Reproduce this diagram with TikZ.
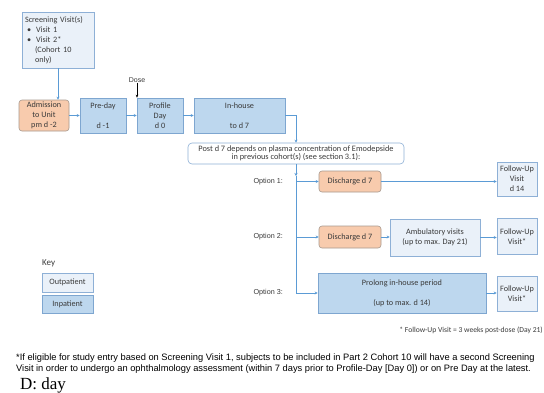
\documentclass[tikz,border=0pt]{standalone}
\usepackage{fontspec}
\setmainfont{Carlito}
\newfontfamily\arialf{Liberation Sans}
\newfontfamily\timesf{Liberation Serif}
\usetikzlibrary{arrows.meta,positioning}
\definecolor{infill}{HTML}{BDD7EE}
\definecolor{inbd}{HTML}{7EA6D0}
\definecolor{outfill}{HTML}{EAF1F9}
\definecolor{outbd}{HTML}{8EB0D6}
\definecolor{orfill}{HTML}{F8CBAD}
\definecolor{orbd}{HTML}{A8998E}
\definecolor{conn}{HTML}{5B9BD5}
\definecolor{txt}{HTML}{3A3A3A}
\tikzset{
  base/.style={line width=0.6pt, inner sep=0pt, align=center, text=txt,
    font=\fontsize{8.2}{10}\selectfont},
  inbox/.style={base, draw=inbd, fill=infill},
  outbox/.style={base, draw=outbd, fill=outfill},
  orbox/.style={base, draw=orbd, fill=orfill, rounded corners=3pt},
  sz/.style 2 args={minimum width=#1pt, minimum height=#2pt},
  link/.style={draw=conn, line width=0.6pt},
  arr/.style={link, -{Stealth[length=3pt,width=3pt]}},
  optlbl/.style={anchor=east, inner sep=0pt, text=txt, font=\arialf\fontsize{7.2}{8}\selectfont},
}
\begin{document}
\begin{tikzpicture}[x=1pt,y=-1pt]
\useasboundingbox[fill=white] (0,0) rectangle (544,392);

% screening
\node[outbox, sz={72}{56}, text width=66pt, align=left] (scr) at (58,40)
  {Screening Visit(s)\\
   \hspace*{2pt}\textbullet\hspace{5pt}Visit 1\\
   \hspace*{2pt}\textbullet\hspace{5pt}Visit 2*\\
   \hspace*{10pt}(Cohort 10\\
   \hspace*{10pt}only)};

% top row
\node[orbox, sz={50}{31}] (adm) at (44,115.5) {Admission\\to Unit\\pm d -2};
\node[inbox, sz={46}{35}] (pre) at (103,115.5) {Pre-day\\[10pt]d -1};
\node[inbox, sz={46}{35}] (prof) at (160,115.5) {Profile\\Day\\d 0};
\node[inbox, sz={91}{35}] (inh) at (239.5,115.5) {In-house\\[10pt]to d 7};

\node[inner sep=0pt, font=\arialf\fontsize{7}{8}\selectfont, text=txt] (dose) at (137,80) {Dose};

% decision box
\node[base, draw=outbd, fill=white, rounded corners=4pt, sz={216}{21},
  font=\fontsize{8.3}{9}\selectfont] (post) at (296,153.5)
  {Post d 7 depends on plasma concentration of Emodepside\\[-0.5pt]in previous cohort(s) (see section 3.1):};

% options
\node[orbox, sz={62}{21}] (d1) at (350,181.5) {Discharge d 7};
\node[outbox, sz={40}{34}] (fu1) at (517,179) {Follow-Up\\Visit\\d 14};

\node[orbox, sz={62}{22}] (d2) at (350,237) {Discharge d 7};
\node[outbox, sz={90}{37}] (amb) at (435,237.5) {Ambulatory visits\\(up to max. Day 21)};
\node[outbox, sz={40}{36}] (fu2) at (517,236.5) {Follow-Up\\Visit*};

\node[inbox, sz={168}{40}] (pro) at (402,293) {Prolong in-house period\\[10pt](up to max. d 14)};
\node[outbox, sz={40}{35}] (fu3) at (517,293.5) {Follow-Up\\Visit*};

\node[optlbl] (o1) at (283,182) {Option 1:};
\node[optlbl] (o2) at (283,237) {Option 2:};
\node[optlbl] (o3) at (283,293) {Option 3:};

% key
\node[anchor=west, inner sep=0pt, text=txt, font=\fontsize{9}{10}\selectfont] (key) at (42,263) {Key};
\node[outbox, sz={51}{19}] (kout) at (67.5,282.5) {Outpatient};
\node[inbox, sz={51}{18}] (kin) at (67.5,304) {Inpatient};

% footnote
\node[anchor=east, inner sep=0pt, text=txt, font=\fontsize{7.6}{8}\selectfont] (fn) at (543,330)
  {* Follow-Up Visit = 3 weeks post-dose (Day 21)};

% bottom text
\node[anchor=base west, inner sep=0pt, font=\arialf\fontsize{9.3}{10}\selectfont] (b1) at (16,360)
  {*If eligible for study entry based on Screening Visit 1, subjects to be included in Part 2 Cohort 10 will have a second Screening};
\node[anchor=base west, inner sep=0pt, font=\arialf\fontsize{9.3}{10}\selectfont] (b2) at (16,371.5)
  {Visit in order to undergo an ophthalmology assessment (within 7 days prior to Profile-Day [Day 0]) or on Pre Day at the latest.};
\node[anchor=base west, inner sep=0pt, font=\timesf\fontsize{17}{18}\selectfont] (dd) at (20,389) {D: day};

% connectors
\draw[arr] (scr.south) -- (scr.south |- adm.north);
\draw[arr] (adm.east) -- (adm.east -| pre.west);
\draw[arr] (pre.east) -- (prof.west);
\draw[arr] (prof.east) -- (inh.west);
\draw[-{Stealth[length=3pt,width=2.5pt]}, line width=0.6pt] (dose.south) -- (dose.south |- prof.north);
\draw[arr] (inh.east) -| (post.north);
\coordinate (j) at (296,176);
\draw[arr] (post.south) -- (j);
\draw[arr] (j) |- (pro.west);
\draw[arr] (j |- d1.west) -- (d1.west);
\draw[arr] (j |- d2.west) -- (d2.west);
\draw[arr] (d1.east) -- (d1.east -| fu1.west);
\draw[arr] (d2.east) -- (d2.east -| amb.west);
\draw[arr] (amb.east) -- (amb.east -| fu2.west);
\draw[arr] (pro.east) -- (pro.east -| fu3.west);
\end{tikzpicture}
\end{document}
